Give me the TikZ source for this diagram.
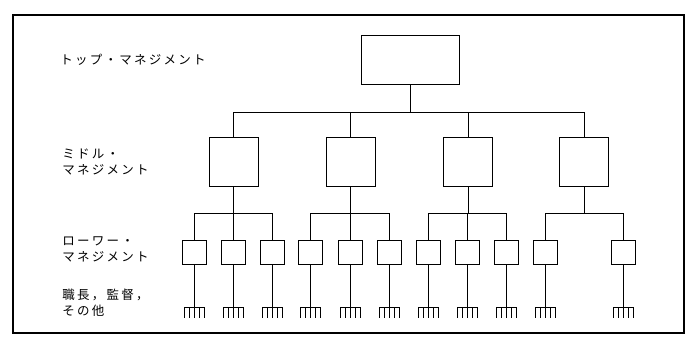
\documentclass[tikz,border=0pt]{standalone}
\usepackage{fontspec}
\newfontfamily\jpfont[LetterSpace=18]{Noto Sans CJK JP}
\tikzset{
  top box/.style={draw, minimum width=98pt, minimum height=49pt, inner sep=0pt},
  mid box/.style={draw, minimum width=49pt, minimum height=49pt, inner sep=0pt},
  low box/.style={draw, minimum width=24pt, minimum height=24pt, inner sep=0pt},
  level/.style={anchor=west, inner sep=0pt, align=left,
    font=\jpfont\fontsize{12.5}{16}\selectfont}
}
\begin{document}
\begin{tikzpicture}[x=1pt, y=-1pt, line width=0.9pt]
  \useasboundingbox (0,0) rectangle (693,338);
  \draw[line width=1.2pt] (13,15) rectangle (684,333);

  \node[level] (ltop) at (60,60) {トップ・マネジメント};
  \node[level] (lmid) at (62,161.5) {ミドル・\\マネジメント};
  \node[level] (llow) at (62,249) {ローワー・\\マネジメント};
  \node[level] (lfor) at (62,302.5) {職長，監督，\\その他};

  \node[top box] (top) at (410,59.5) {};
  \coordinate (bus) at (410,112);
  \coordinate (lbus) at (0,213);

  \foreach \m/\x in {1/233.5,2/350.5,3/468,4/584}{
    \node[mid box] (m\m) at (\x,161.5) {};
    \draw (m\m.north) -- (m\m.north |- bus);
    \draw (m\m.south) -- (m\m.south |- lbus);
  }
  \draw (top.south) -- (bus);
  \draw (m1.north |- bus) -- (m4.north |- bus);

  \foreach \i/\x in {1/194,2/233,3/272,4/310,5/350,6/389,7/428,8/467,9/506,10/545,11/623}{
    \node[low box] (l\i) at (\x,252) {};
    \coordinate (r\i) at (\x,307);
    \draw (l\i.north) -- (l\i.north |- lbus);
    \draw (l\i.south) -- (r\i);
    \draw ([xshift=-10pt]r\i) -- ([xshift=10pt]r\i);
    \foreach \t in {-10,-5,0,5,10}
      \draw ([xshift=\t pt]r\i) -- ++(0,11);
  }
  \draw (l1.north |- lbus) -- (l3.north |- lbus);
  \draw (l4.north |- lbus) -- (l6.north |- lbus);
  \draw (l7.north |- lbus) -- (l9.north |- lbus);
  \draw (l10.north |- lbus) -- (l11.north |- lbus);
\end{tikzpicture}
\end{document}
